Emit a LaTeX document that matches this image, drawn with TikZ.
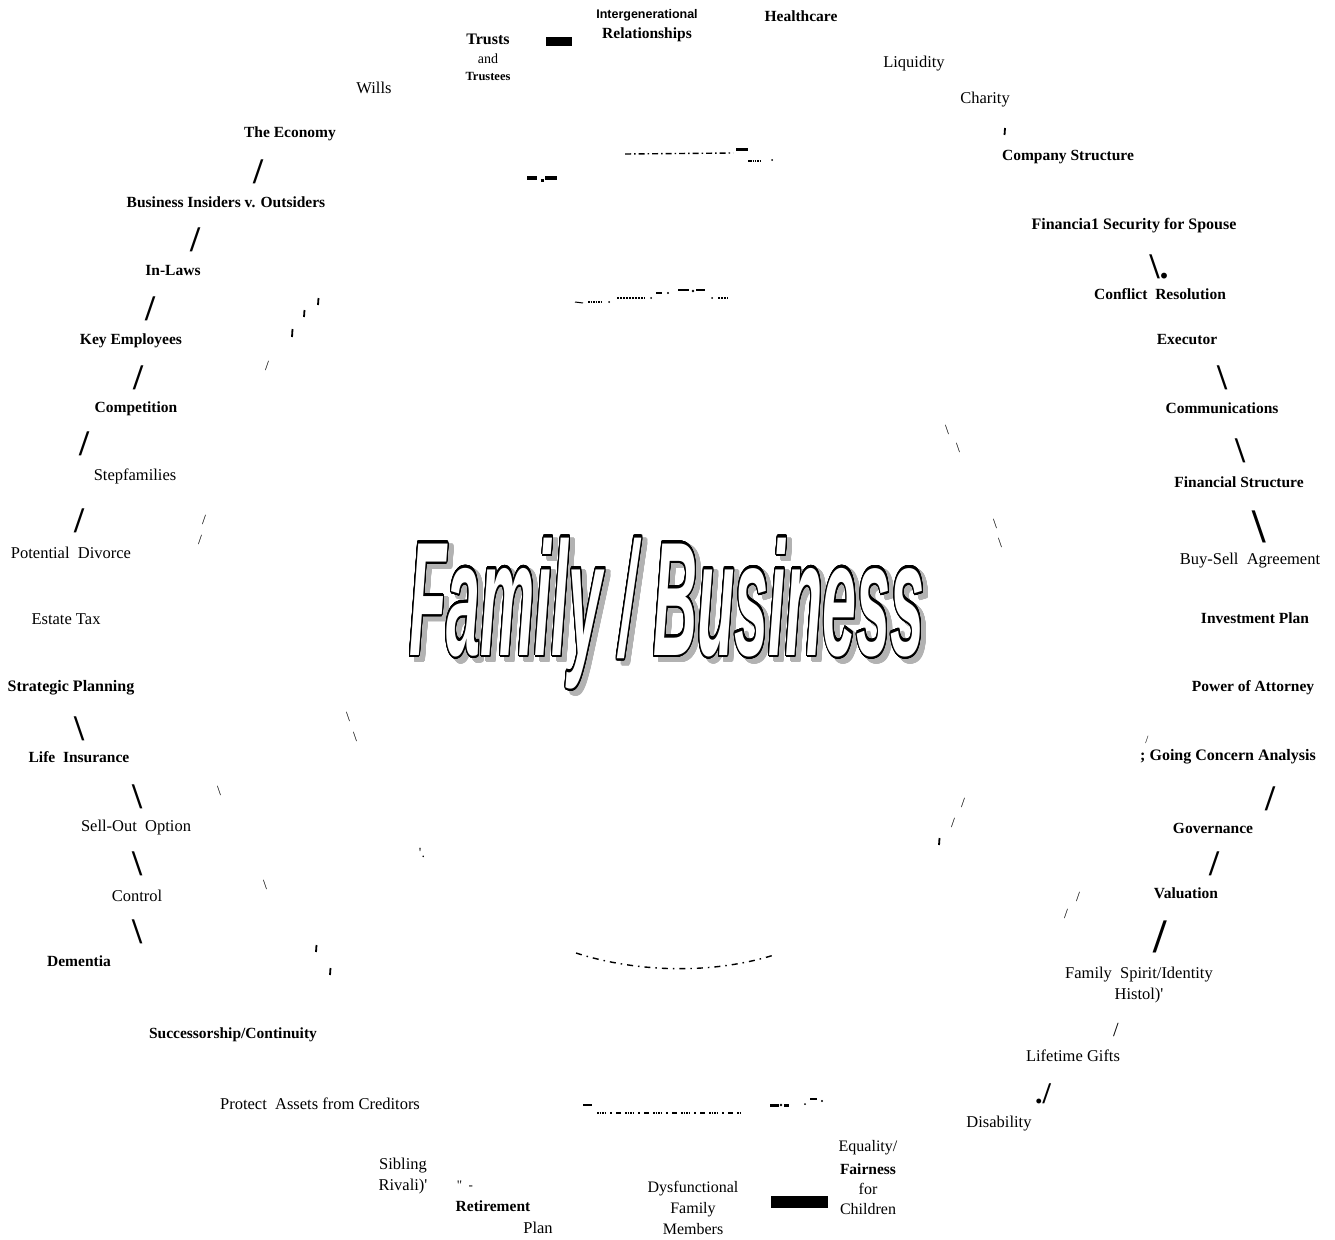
\documentclass[tikz,border=0pt]{standalone}
\usepackage{fontspec}
\setmainfont{Liberation Serif}
\newfontfamily\titlefont{Liberation Sans}
\usepackage[copies]{contour}
\contournumber{32}
\begin{document}
\begin{tikzpicture}[x=1pt,y=-1pt,
  lab/.style={font=\fontsize{16.5}{20.5}\selectfont,inner sep=0pt,align=center},
  blab/.style={font=\bfseries\fontsize{15.5}{20.5}\selectfont,inner sep=0pt,align=center},
  bigsl/.style={font=\bfseries\fontsize{36}{36}\selectfont,inner sep=0pt},
  hugesl/.style={font=\bfseries\fontsize{48}{48}\selectfont,inner sep=0pt},
  smsl/.style={font=\fontsize{14}{14}\selectfont,inner sep=0pt},
  titlestyle/.style={inner sep=0pt,anchor=base,transform shape,xscale=0.61,yscale=1.62,
     font=\titlefont\bfseries\itshape\fontsize{100}{100}\selectfont},
  tickm/.style={line width=1.8pt},
  dashln/.style={line width=1.4pt,dash pattern=on 6pt off 3pt on 1.5pt off 3pt},
  blk/.style={fill=black,draw=none}]
\useasboundingbox (0,0) rectangle (1335,1239);
\fill[white] (0,0) rectangle (1335,1239);

% ---------- title ----------
\contourlength{2pt}
\node[titlestyle,text=gray!60] (titleshadow) at (672,659)
  {\contour{gray!60}{Family / Business}};
\contourlength{1.5pt}
\node[titlestyle] (title) at (667,655)
  {\contour{black}{\textcolor{white}{Family / Business}}};

% ---------- top ----------
\node[font=\titlefont\bfseries\fontsize{12.5}{13}\selectfont,inner sep=0pt] (interg) at (647,15) {Intergenerational};
\node[blab] (relat) at (647,35) {Relationships};
\node[blab] (health) at (801,16) {Healthcare};
\node[font=\bfseries\fontsize{16}{16}\selectfont,inner sep=0pt] (trusts) at (488,39) {Trusts};
\node[lab,font=\fontsize{14}{14}\selectfont] (andw) at (488,59) {and};
\node[font=\bfseries\fontsize{12.5}{12.5}\selectfont,inner sep=0pt] (trustees) at (488,76) {Trustees};
\fill[blk] (546,37) rectangle (572,46);
\node[lab] (wills) at (374,88) {Wills};
\node[lab] (liq) at (914,64) {Liquidity};
\node[lab] (charity) at (985,100) {Charity};
\draw[tickm] (1005,128) -- (1004.5,135);
\node[blab] (compstr) at (1068,157) {Company Structure};

% ---------- left column ----------
\node[blab] (econ) at (290,134) {The Economy};
\node[bigsl] (s1) at (258,172) {/};
\node[blab] (bio) at (226,202) {Business Insiders v. Outsiders};
\node[bigsl] (s2) at (195,240) {/};
\node[blab] (inlaws) at (173,270) {In-Laws};
\node[bigsl] (s3) at (150,309) {/};
\node[blab] (keyemp) at (131,341) {Key Employees};
\node[bigsl] (s4) at (138,378) {/};
\node[blab] (compet) at (136,409) {Competition};
\node[bigsl] (s5) at (84,444) {/};
\node[lab] (stepf) at (135,476) {Stepfamilies};
\node[bigsl] (s6) at (79,521) {/};
\node[lab] (potdiv) at (71,553) {Potential\ \ Divorce};
\node[lab] (estate) at (66,619) {Estate Tax};
\node[blab,font=\bfseries\fontsize{16}{20.5}\selectfont] (strat) at (71,688) {Strategic Planning};
\node[bigsl] (s7) at (79,729) {\textbackslash};
\node[blab] (lifeins) at (79,757) {Life\ \ Insurance};
\node[bigsl] (s8) at (137,797) {\textbackslash};
\node[lab] (sellout) at (136,828) {Sell-Out\ \ Option};
\node[bigsl] (s9) at (137,864) {\textbackslash};
\node[lab] (control) at (137,896) {Control};
\node[bigsl] (s10) at (137,932) {\textbackslash};
\node[blab] (dement) at (79,961) {Dementia};
\node[blab] (succ) at (233,1035) {Successorship/Continuity};
\node[lab] (protect) at (320,1104) {Protect\ \ Assets from Creditors};

% ---------- bottom ----------
\node[lab] (sibling) at (403,1176) {Sibling\\Rivali)\textquotesingle};
\node[lab,font=\fontsize{13}{13}\selectfont] (quote) at (465,1185) {\textquotedbl\ \ -};
\node[blab] (retire) at (493,1206) {Retirement};
\node[lab] (plan) at (538,1228) {Plan};
\node[lab,font=\fontsize{16}{21}\selectfont] (dysf) at (693,1208) {Dysfunctional\\Family\\Members};
\fill[blk] (771,1196) rectangle (828,1208);
\node[lab,font=\fontsize{16}{20}\selectfont] (equal) at (868,1148) {Equality/};
\node[blab] (fairw) at (868,1169) {Fairness};
\node[lab,font=\fontsize{16}{20}\selectfont] (forch) at (868,1199) {for\\Children};
\node[lab] (disab) at (999,1124) {Disability};

% ---------- right column ----------
\node[bigsl,font=\bfseries\fontsize{30}{30}\selectfont] (s11) at (1043,1094) {./};
\node[lab] (lifeg) at (1073,1056) {Lifetime Gifts};
\node[smsl,font=\fontsize{20}{20}\selectfont] (s12) at (1116,1030) {/};
\node[lab] (spirit) at (1139,985) {Family\ \ Spirit/Identity\\Histol)\textquotesingle};
\node[hugesl] (s13) at (1160,937) {/};
\node[blab] (valu) at (1186,893) {Valuation};
\node[bigsl] (s14) at (1214,864) {/};
\node[blab] (gov) at (1213,828) {Governance};
\node[bigsl] (s15) at (1270,799) {/};
\node[blab,font=\bfseries\fontsize{16}{20.5}\selectfont] (going) at (1228,757) {; Going Concern Analysis};
\node[smsl,font=\fontsize{11}{11}\selectfont] (s16) at (1147,740) {/};
\node[blab] (poa) at (1253,688) {Power of Attorney};
\node[blab] (invest) at (1255,618) {Investment Plan};
\node[lab] (buysell) at (1250,561) {Buy-Sell\ \ Agreement};
\node[hugesl] (s17) at (1259,527) {\textbackslash};
\node[blab] (finstr) at (1239,482) {Financial Structure};
\node[bigsl] (s18) at (1240,451) {\textbackslash};
\node[blab] (comm) at (1222,408) {Communications};
\node[bigsl] (s19) at (1222,378) {\textbackslash};
\node[blab] (exec) at (1187,340) {Executor};
\node[blab] (conflict) at (1160,294) {Conflict\ \ Resolution};
\node[bigsl] (s20) at (1159,267) {\textbackslash.};
\node[blab,font=\bfseries\fontsize{16}{20.5}\selectfont] (finsec) at (1134,226) {Financia1 Security for Spouse};

% ---------- small marks inside ----------
\draw[tickm] (318.5,298) -- (318,305);
\draw[tickm] (304.5,310) -- (304,317);
\draw[tickm] (292.5,329) -- (292,337);
\node[smsl] (m1) at (267,366) {/};
\node[smsl] (m2) at (204,520) {/};
\node[smsl] (m3) at (200,540) {/};
\node[smsl] (m4) at (348,717) {\textbackslash};
\node[smsl] (m5) at (355,737) {\textbackslash};
\node[smsl] (m6) at (219,791) {\textbackslash};
\node[smsl] (m7) at (422,853) {\textquotesingle.};
\node[smsl] (m8) at (265,885) {\textbackslash};
\draw[tickm] (316.5,945) -- (316,952);
\draw[tickm] (330.5,968) -- (330,975);
\node[smsl] (m9) at (947,430) {\textbackslash};
\node[smsl] (m10) at (958,448) {\textbackslash};
\node[smsl] (m11) at (995,524) {\textbackslash};
\node[smsl] (m12) at (1000,543) {\textbackslash};
\node[smsl] (m13) at (963,803) {/};
\node[smsl] (m14) at (953,823) {/};
\draw[tickm] (939.5,838) -- (939,845);
\node[smsl] (m15) at (1078,897) {/};
\node[smsl] (m16) at (1066,914) {/};

% ---------- broken lines ----------
\draw[dashln] (625,154) -- (733,153);
\draw[line width=3pt] (736,149) -- (748,149);
\draw[line width=1.5pt,dash pattern=on 1.5pt off 0.8pt] (748,161) -- (760,161);
\fill (772,160) circle (1pt);
\draw[line width=3.5pt] (527,178) -- (537,178);
\fill (540.5,179) rectangle (543.5,182);
\draw[line width=3.5pt] (545,178) -- (557,178);

\draw[line width=1pt] (575,302) -- (583,303);
\draw[line width=2pt,dash pattern=on 1.5pt off 1pt] (588,302) -- (602,302);
\fill (609,302) circle (1pt);
\draw[line width=2pt,dash pattern=on 2pt off 1pt] (617,298) -- (645,298);
\fill (651,298) circle (1pt);
\draw[line width=2pt] (656,293) -- (662,293);
\fill (668,293) circle (1.1pt);
\draw[line width=2pt] (678,290) -- (689,290);
\fill (693,291) circle (1.3pt);
\draw[line width=2pt] (696,290) -- (705,290);
\fill (712,298) circle (1pt);
\draw[line width=2pt,dash pattern=on 2pt off 1pt] (718,298) -- (728,298);

\draw[line width=1.4pt,dash pattern=on 6pt off 5pt on 1.5pt off 5pt] (576,953) .. controls (635,972) and (710,975) .. (774,955);

\draw[line width=2pt] (583,1105) -- (592,1105);
\draw[line width=1.6pt,dash pattern=on 1.5pt off 1pt on 1.5pt off 1pt on 1.5pt off 1pt on 1.5pt off 4pt on 2pt off 4pt on 5pt off 4pt] (597,1113) -- (742,1113);
\draw[line width=3pt] (770,1105) -- (779,1105);
\fill (781,1105) circle (1.3pt);
\draw[line width=3pt] (784,1105) -- (789,1105);
\fill (805,1104) circle (1pt);
\draw[line width=2pt] (810,1099) -- (817,1099);
\fill (822,1101) circle (1.2pt);
\end{tikzpicture}
\end{document}
